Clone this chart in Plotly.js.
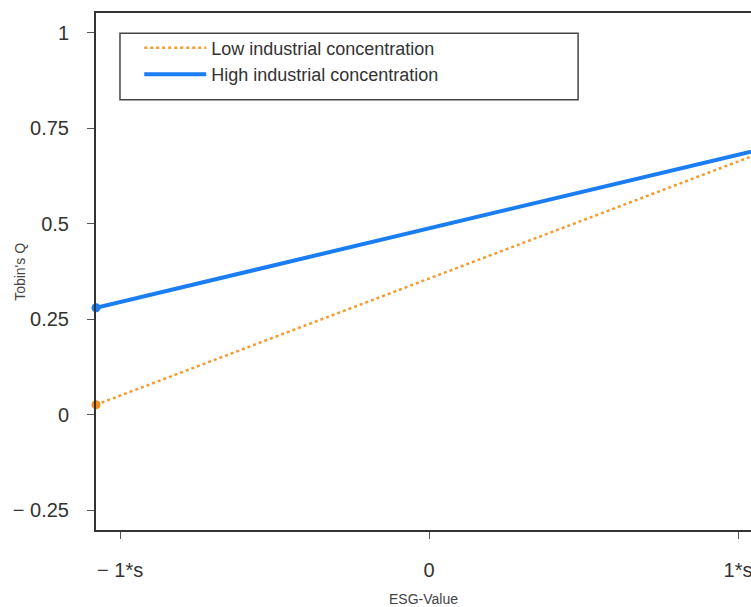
<!DOCTYPE html>
<html>
<head>
<meta charset="utf-8">
<script src="https://cdn.plot.ly/plotly-3.0.1.min.js"></script>
<style>html,body{margin:0;padding:0;background:#fff;}#chart{width:751px;height:607px;}</style>
</head>
<body>
<div id="chart"></div>
<script>
// Data
const esgX = [-1.078, 1.042];
const lowConc = [0.026, 0.676];
const highConc = [0.28, 0.689];
const seriesNames = ["Low industrial concentration", "High industrial concentration"];
const yTickVals = [-0.25, 0, 0.25, 0.5, 0.75, 1];
const yTickText = ["\u2212 0.25", "0", "0.25", "0.5", "0.75", "1"];
const xTickVals = [-1, 0, 1];
const xTickText = ["\u2212 1*s", "0", "1*s"];

const font = "Liberation Sans, Arial, sans-serif";
const orange = "#f59a2e", blue = "#1a7df2";

const traces = [
  {
    x: esgX, y: lowConc, name: seriesNames[0], type: "scatter", mode: "lines",
    line: {color: orange, width: 2.5, dash: "dot"}, cliponaxis: false
  },
  {
    x: esgX, y: highConc, name: seriesNames[1], type: "scatter", mode: "lines",
    line: {color: blue, width: 4}, cliponaxis: false
  },
  {
    x: [esgX[0]], y: [lowConc[0]], type: "scatter", mode: "markers", showlegend: false,
    marker: {color: "#f58c20", size: 9}, cliponaxis: false
  },
  {
    x: [esgX[0]], y: [highConc[0]], type: "scatter", mode: "markers", showlegend: false,
    marker: {color: blue, size: 9}, cliponaxis: false
  }
];

const layout = {
  width: 751, height: 607,
  margin: {l: 96, r: 0, t: 13, b: 77},
  paper_bgcolor: "#fff", plot_bgcolor: "#fff",
  showlegend: true,
  font: {family: font, color: "#333"},
  xaxis: {
    range: [-1.078, 1.042], showgrid: false, zeroline: false,
    showline: true, linecolor: "#333", linewidth: 2, mirror: true,
    ticks: "outside", ticklen: 7, tickwidth: 1, tickcolor: "#555",
    tickvals: xTickVals, ticktext: xTickText,
    tickfont: {size: 20, color: "#333", family: font},
    ticklabelstandoff: 14, ticklabeloverflow: "allow",
    title: {text: "ESG-Value", font: {size: 14, color: "#444", family: font}, standoff: 14}
  },
  yaxis: {
    range: [-0.302, 1.052], showgrid: false, zeroline: false,
    showline: true, linecolor: "#333", linewidth: 2,
    ticks: "outside", ticklen: 7, tickwidth: 1, tickcolor: "#555",
    tickvals: yTickVals, ticktext: yTickText,
    tickfont: {size: 20, color: "#333", family: font},
    ticklabelstandoff: 14
  },
  annotations: [{
    text: "Tobin's Q", xref: "paper", yref: "paper", x: -0.117, y: 0.5,
    xanchor: "center", yanchor: "middle", textangle: -90, showarrow: false,
    font: {size: 14, color: "#444", family: font}
  }],
  legend: {
    x: 0.066, y: 0.968, xanchor: "left", yanchor: "top",
    bgcolor: "rgba(0,0,0,0)", borderwidth: 0,
    font: {size: 18, color: "#333", family: font},
    itemwidth: 62, tracegroupgap: 0
  },
  shapes: [{
    type: "rect", xref: "paper", yref: "paper",
    x0: 0.0366, x1: 0.736, y0: 0.832, y1: 0.961,
    line: {color: "#444", width: 1.5}, fillcolor: "rgba(0,0,0,0)"
  }]
};

Plotly.newPlot("chart", traces, layout, {displayModeBar: false, staticPlot: true});
</script>
</body>
</html>
